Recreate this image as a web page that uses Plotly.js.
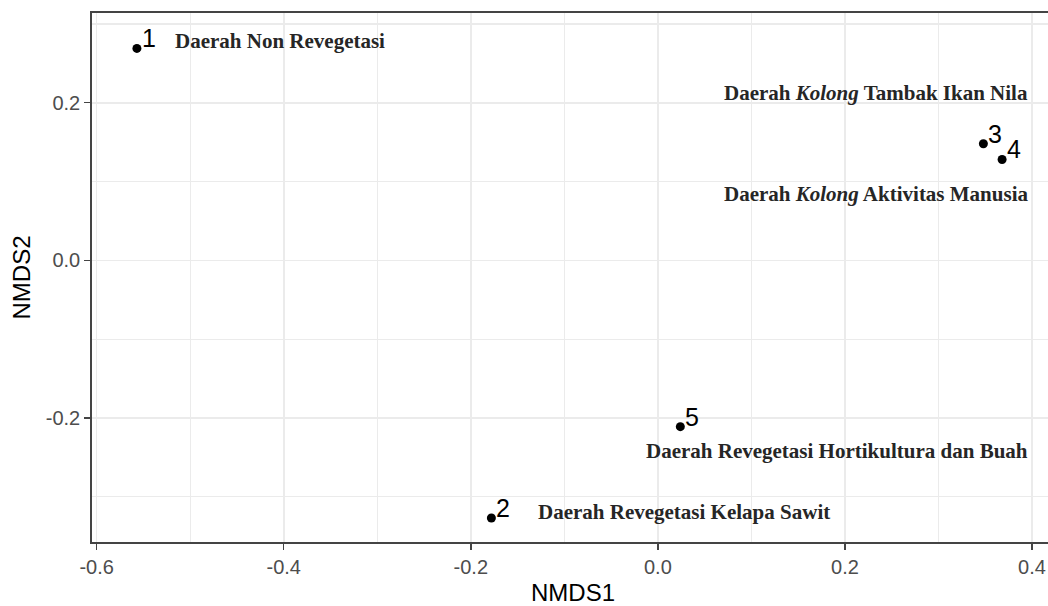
<!DOCTYPE html>
<html>
<head>
<meta charset="utf-8">
<script src="https://cdn.plot.ly/plotly-3.0.1.min.js"></script>
<style>
html,body{margin:0;padding:0;overflow:hidden;background:#fff;}
#chart{width:1054px;height:606px;}
</style>
</head>
<body>
<div id="chart"></div>
<script>
// Site scores (NMDS)
const siteIds = ['1', '2', '3', '4', '5'];
const nmds1 = [-0.557, -0.178, 0.348, 0.368, 0.024];
const nmds2 = [0.269, -0.327, 0.148, 0.128, -0.211];

// Region labels
const regionText = [
  'Daerah Non Revegetasi',
  'Daerah <i>Kolong</i> Tambak Ikan Nila',
  'Daerah <i>Kolong</i> Aktivitas Manusia',
  'Daerah Revegetasi Hortikultura dan Buah',
  'Daerah Revegetasi Kelapa Sawit'
];
const regionX = [-0.518, 0.3976, 0.3976, 0.3976, -0.1305];
const regionY = [0.2780, 0.2123, 0.0845, -0.2416, -0.3199];
const regionAnchor = ['left', 'right', 'right', 'right', 'left'];

const xTicks = [-0.6, -0.4, -0.2, 0.0, 0.2, 0.4];
const xTickText = ['-0.6', '-0.4', '-0.2', '0.0', '0.2', '0.4'];
const yTicks = [-0.2, 0.0, 0.2];
const yTickText = ['-0.2', '0.0', '0.2'];

const trace = {
  x: nmds1, y: nmds2, mode: 'markers', type: 'scatter',
  marker: {color: '#000', size: 9},
  hoverinfo: 'skip', showlegend: false
};

const annotations = [];
siteIds.forEach((s, i) => {
  annotations.push({
    x: nmds1[i], y: nmds2[i], xref: 'x', yref: 'y', text: s, showarrow: false,
    xanchor: 'left', yanchor: 'bottom', xshift: 3, yshift: -6,
    font: {family: 'Liberation Sans, Arial, sans-serif', size: 25, color: '#000'}
  });
});
regionText.forEach((t, i) => {
  annotations.push({
    x: regionX[i], y: regionY[i], xref: 'x', yref: 'y', text: '<b>' + t + '</b>', showarrow: false,
    xanchor: regionAnchor[i], yanchor: 'middle',
    font: {family: 'Liberation Serif, Times New Roman, serif', size: 21, color: '#262626'}
  });
});

const axisCommon = {
  showline: true, mirror: true, linecolor: '#444444', linewidth: 1.8,
  ticks: 'outside', ticklen: 6, tickwidth: 1.4, tickcolor: '#444444',
  showgrid: true, gridcolor: '#ebebeb', gridwidth: 1.6,
  zeroline: false,
  tickfont: {family: 'Liberation Sans, Arial, sans-serif', size: 20, color: '#4d4d4d'}
};

const layout = {
  width: 1054, height: 606,
  margin: {l: 92, r: 0, t: 13, b: 64},
  paper_bgcolor: '#fff', plot_bgcolor: '#fff',
  xaxis: Object.assign({}, axisCommon, {
    range: [-0.605, 0.4235],
    tickmode: 'array', tickvals: xTicks, ticktext: xTickText,
    minor: {tickmode: 'linear', tick0: 0, dtick: 0.1, showgrid: true, gridcolor: '#ebebeb', gridwidth: 1.1},
    title: {text: 'NMDS1', standoff: 8, font: {family: 'Liberation Sans, Arial, sans-serif', size: 24, color: '#000'}}
  }),
  yaxis: Object.assign({}, axisCommon, {
    range: [-0.3574, 0.3139],
    tickmode: 'array', tickvals: yTicks, ticktext: yTickText,
    minor: {tickmode: 'linear', tick0: 0, dtick: 0.1, showgrid: true, gridcolor: '#ebebeb', gridwidth: 1.1},
    title: {text: 'NMDS2', standoff: 8, font: {family: 'Liberation Sans, Arial, sans-serif', size: 24, color: '#000'}}
  }),
  annotations: annotations
};

Plotly.newPlot('chart', [trace], layout, {displayModeBar: false, staticPlot: true});
</script>
</body>
</html>
